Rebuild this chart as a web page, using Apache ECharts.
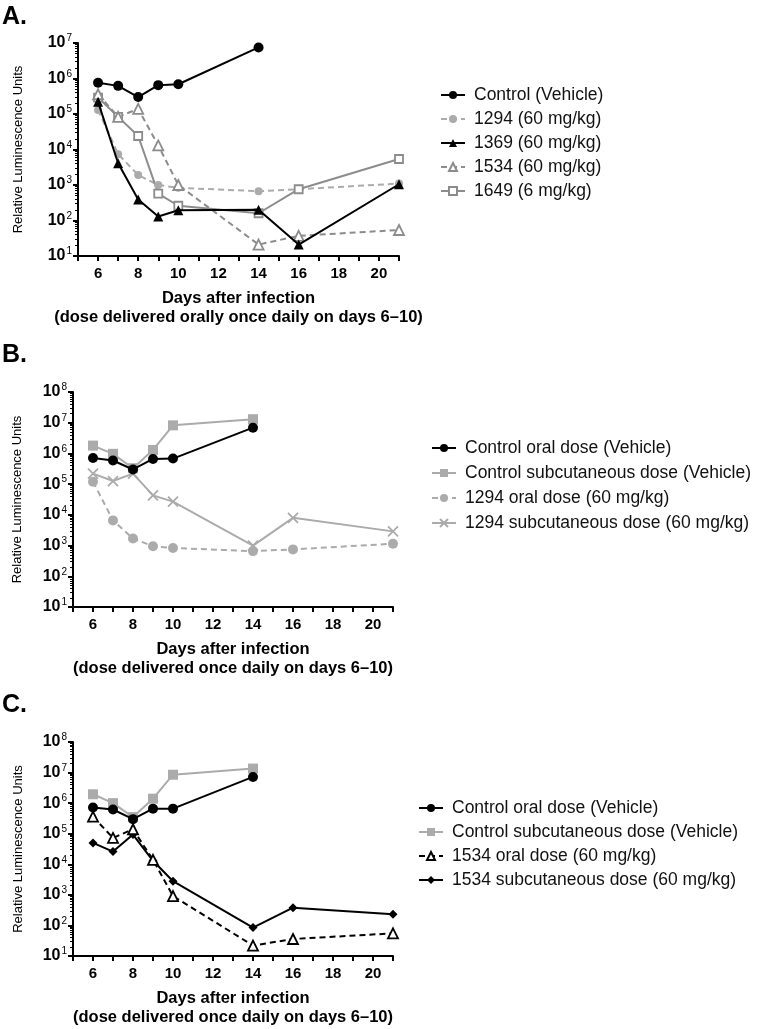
<!DOCTYPE html>
<html>
<head>
<meta charset="utf-8">
<script src="https://cdn.jsdelivr.net/npm/echarts@6/dist/echarts.min.js"></script>
<style>
  html, body { margin: 0; padding: 0; background: #fff; }
</style>
</head>
<body>
<div id="main" style="width:762px;height:1029px"></div>
<script>
// days sampled
var days = [6, 7, 8, 9, 10, 14, 16, 21];
var controlDays = [6, 7, 8, 9, 10, 14];

// panel A (oral dosing)
var controlA = [7.6e5, 6.2e5, 3.0e5, 6.5e5, 6.9e5, 7.5e6];
var drug1294A = [1.3e5, 7.4e3, 1.9e3, 1.0e3, 8.3e2, 6.7e2, 7.6e2, 1.1e3];
var drug1369A = [2.2e5, 4.1e3, 3.9e2, 1.3e2, 1.95e2, 2.0e2, 21, 1.05e3];
var drug1534A = [3.6e5, 8.3e4, 1.4e5, 1.3e4, 1.0e3, 21, 37, 54];
var drug1649A = [2.9e5, 8.3e4, 2.4e4, 5.7e2, 2.6e2, 1.6e2, 7.6e2, 5.4e3];

// panel B (1294 oral vs subcutaneous)
var controlOralB = [7.1e5, 5.9e5, 3.0e5, 6.6e5, 6.8e5, 6.9e6];
var controlSubB = [1.8e6, 9.7e5, 3.3e5, 1.3e6, 8.2e6, 1.3e7];
var oral1294B = [1.2e5, 6.6e3, 1.7e3, 9.5e2, 8.3e2, 6.6e2, 7.5e2, 1.15e3];
var sub1294B = [2.2e5, 1.26e5, 2.2e5, 4.3e4, 2.7e4, 1.0e3, 8.0e3, 2.9e3];

// panel C (1534 oral vs subcutaneous)
var controlOralC = [7.2e5, 6.2e5, 3.0e5, 6.6e5, 6.6e5, 7.2e6];
var controlSubC = [1.95e6, 1.0e6, 3.5e5, 1.4e6, 8.5e6, 1.35e7];
var oral1534C = [3.6e5, 7.3e4, 1.4e5, 1.4e4, 9.1e2, 22, 36, 55];
var sub1534C = [5.0e4, 2.6e4, 9.4e4, 1.3e4, 2.8e3, 85, 3.8e2, 2.3e2];

var xTitleA = 'Days after infection\n(dose delivered orally once daily on days 6\u201310)';
var xTitleBC = 'Days after infection\n(dose delivered once daily on days 6\u201310)';
var yTitle = 'Relative Luminescence Units';

var FONT = '"Liberation Sans", Arial, Helvetica, sans-serif';
var LIGHT = '#ababab';
var MID = '#8c8c8c';

function pairs(xs, ys) {
  return ys.map(function (v, i) { return [xs[i], v]; });
}

function xAxisFor(idx, title) {
  return {
    type: 'value', gridIndex: idx, min: 5, max: 21, interval: 1,
    axisLine: { lineStyle: { color: '#000', width: 2 } },
    axisTick: { length: 5, lineStyle: { color: '#000', width: 2 } },
    splitLine: { show: false },
    axisLabel: {
      color: '#000', fontSize: 15, fontWeight: 'bold', fontFamily: FONT, margin: 10,
      formatter: function (v) { return (v % 2 === 0) ? String(v) : ''; }
    },
    name: title, nameLocation: 'middle', nameGap: 33,
    nameTextStyle: { color: '#000', fontSize: 16.5, fontWeight: 'bold', fontFamily: FONT, lineHeight: 19 }
  };
}

function yAxisFor(idx, maxV, gap) {
  return {
    type: 'log', logBase: 10, gridIndex: idx, min: 10, max: maxV,
    axisLine: { show: true, lineStyle: { color: '#000', width: 2 } },
    axisTick: { show: true, length: 5, lineStyle: { color: '#000', width: 2 } },
    minorTick: { show: true, splitNumber: 9, length: 3, lineStyle: { color: '#000', width: 1 } },
    splitLine: { show: false },
    axisLabel: {
      margin: 6,
      formatter: function (v) {
        var e = Math.round(Math.log(v) / Math.LN10);
        return '{b|10}{s|' + e + '}';
      },
      rich: {
        b: { color: '#000', fontSize: 16, fontWeight: 'bold', fontFamily: FONT },
        s: { color: '#000', fontSize: 10, fontFamily: FONT, verticalAlign: 'bottom', padding: [0, 0, 9, 1] }
      }
    },
    name: yTitle, nameLocation: 'middle', nameGap: gap,
    nameTextStyle: { color: '#000', fontSize: 13, fontFamily: FONT }
  };
}

function lineSeries(name, idx, xs, ys, color, symbol, opts) {
  opts = opts || {};
  return {
    name: name, type: 'line', xAxisIndex: idx, yAxisIndex: idx,
    data: pairs(xs, ys),
    symbol: symbol, symbolSize: opts.size || 9,
    lineStyle: { color: color, width: 2, type: opts.dashed ? [6, 4] : 'solid' },
    itemStyle: {
      color: opts.open ? '#fff' : color,
      borderColor: color,
      borderWidth: opts.open || opts.stroke ? 1.8 : 0
    },
    z: opts.z || 2,
    animation: false
  };
}

function legendFor(left, top, names, gap) {
  return {
    orient: 'vertical', left: left, top: top, data: names,
    itemWidth: 24, itemHeight: 10, itemGap: gap,
    textStyle: { color: '#111', fontSize: 17.5, fontFamily: FONT, padding: [0, 0, 0, 4] },
    selectedMode: false
  };
}

var titleStyle = { fontSize: 25, fontWeight: 'bold', color: '#000', fontFamily: FONT };

var chart = echarts.init(document.getElementById('main'));
chart.setOption({
  backgroundColor: '#fff',
  animation: false,
  textStyle: { fontFamily: FONT },
  title: [
    { text: 'A.', left: -3, top: 0, textStyle: titleStyle },
    { text: 'B.', left: -3, top: 338, textStyle: titleStyle },
    { text: 'C.', left: -3, top: 688, textStyle: titleStyle }
  ],
  grid: [
    { left: 78, top: 43, width: 321, height: 213 },
    { left: 73, top: 392, width: 320, height: 215 },
    { left: 73, top: 742, width: 320, height: 214 }
  ],
  xAxis: [xAxisFor(0, xTitleA), xAxisFor(1, xTitleBC), xAxisFor(2, xTitleBC)],
  yAxis: [yAxisFor(0, 1e7, 53), yAxisFor(1, 1e8, 49), yAxisFor(2, 1e8, 48)],
  legend: [
    legendFor(435, 81, ['Control (Vehicle)', '1294 (60 mg/kg)', '1369 (60 mg/kg)', '1534 (60 mg/kg)', '1649 (6 mg/kg)'], 6),
    legendFor(426, 434, ['Control oral dose (Vehicle)', 'Control subcutaneous dose (Vehicle)', '1294 oral dose (60 mg/kg)', '1294 subcutaneous dose (60 mg/kg)'], 7),
    legendFor(413, 794, ['Control oral dose (Vehicle)', 'Control subcutaneous dose (Vehicle)', '1534 oral dose (60 mg/kg)', '1534 subcutaneous dose (60 mg/kg)'], 6)
  ],
  series: [
    // A
    lineSeries('1294 (60 mg/kg)', 0, days, drug1294A, LIGHT, 'circle', { dashed: true, size: 8 }),
    lineSeries('1649 (6 mg/kg)', 0, days, drug1649A, MID, 'rect', { open: true, size: 8 }),
    lineSeries('1534 (60 mg/kg)', 0, days, drug1534A, MID, 'triangle', { dashed: true, open: true, size: 10 }),
    lineSeries('1369 (60 mg/kg)', 0, days, drug1369A, '#000', 'triangle', { size: 10, z: 3 }),
    lineSeries('Control (Vehicle)', 0, controlDays, controlA, '#000', 'circle', { size: 10, z: 4 }),
    // B
    lineSeries('Control subcutaneous dose (Vehicle)', 1, controlDays, controlSubB, LIGHT, 'rect', { size: 10 }),
    lineSeries('1294 oral dose (60 mg/kg)', 1, days, oral1294B, LIGHT, 'circle', { dashed: true, size: 10 }),
    lineSeries('1294 subcutaneous dose (60 mg/kg)', 1, days, sub1294B, LIGHT, 'path://M0,0L10,10M10,0L0,10', { size: 10, stroke: true }),
    lineSeries('Control oral dose (Vehicle)', 1, controlDays, controlOralB, '#000', 'circle', { size: 10, z: 4 }),
    // C
    lineSeries('Control subcutaneous dose (Vehicle)', 2, controlDays, controlSubC, LIGHT, 'rect', { size: 10 }),
    lineSeries('Control oral dose (Vehicle)', 2, controlDays, controlOralC, '#000', 'circle', { size: 10, z: 3 }),
    lineSeries('1534 subcutaneous dose (60 mg/kg)', 2, days, sub1534C, '#000', 'diamond', { size: 9, z: 3 }),
    lineSeries('1534 oral dose (60 mg/kg)', 2, days, oral1534C, '#000', 'triangle', { dashed: true, open: true, size: 10, z: 4 })
  ]
});
</script>
</body>
</html>
